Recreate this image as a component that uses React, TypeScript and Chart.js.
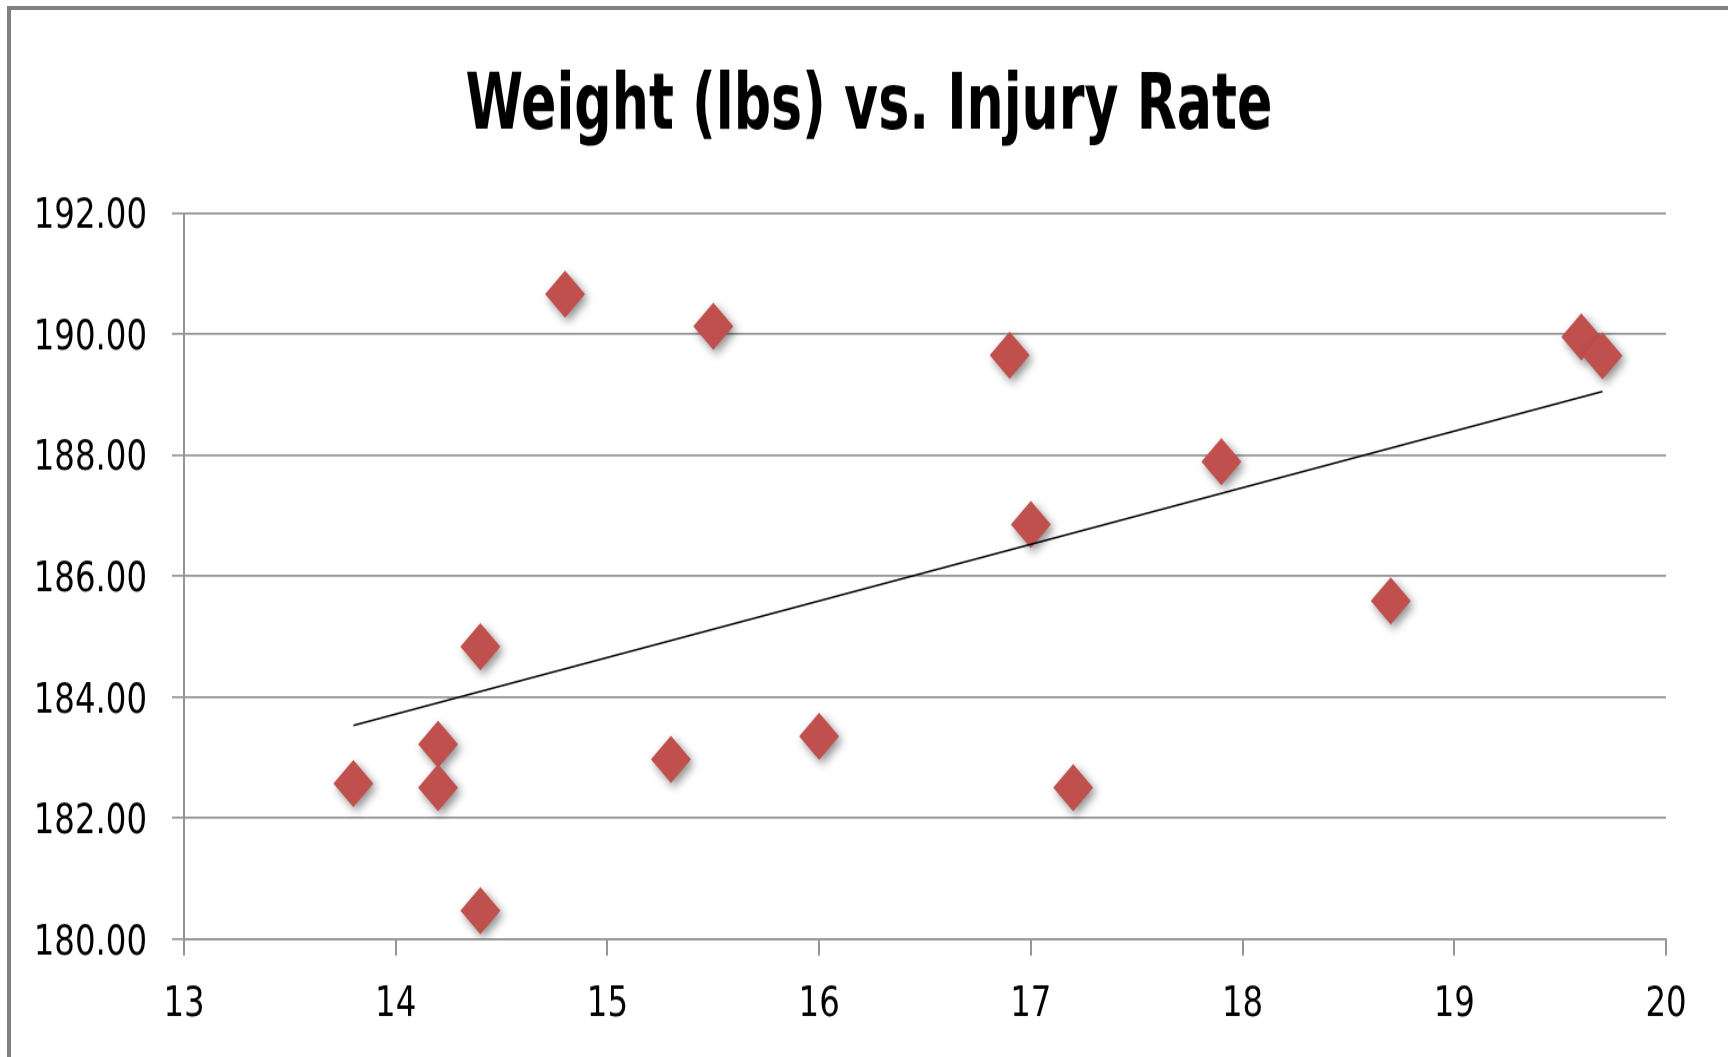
import React, { useEffect, useRef } from "react";
import { Chart, registerables } from "chart.js";

Chart.register(...registerables);

const TITLE = "Weight (lbs) vs. Injury Rate";

// Injury rate (x) and weight in lbs (y)
const injuryRate = [13.8, 14.2, 14.2, 14.4, 14.4, 14.8, 15.3, 15.5, 16.0, 16.9, 17.0, 17.2, 17.9, 18.7, 19.6, 19.7];
const weightLbs = [182.57, 183.22, 182.5, 184.83, 180.47, 190.66, 182.97, 190.13, 183.35, 189.65, 186.85, 182.5, 187.89, 185.59, 189.95, 189.64];

// Linear trendline end points (x, y)
const trendX = [13.8, 19.7];
const trendY = [183.53, 189.05];

const X_MIN = 13;
const X_MAX = 20;
const X_STEP = 1;
const Y_MIN = 180;
const Y_MAX = 192;
const Y_STEP = 2;

// The original picture is vertically stretched; reproduce by drawing on a
// shorter canvas and stretching it with CSS.
const STRETCH = 1.18;
const W = 1728;
const H_FULL = 1057;
const H = Math.round(H_FULL / STRETCH);

const FONT = "'DejaVu Sans Condensed', 'Liberation Sans', sans-serif";

const shadowPlugin = {
  id: "markerShadow",
  beforeDatasetDraw(chart: any, args: any) {
    if (args.index === 1) {
      const ctx = chart.ctx;
      ctx.save();
      ctx.shadowColor = "rgba(0,0,0,0.45)";
      ctx.shadowBlur = 9;
      ctx.shadowOffsetX = 3;
      ctx.shadowOffsetY = 3.5;
    }
  },
  afterDatasetDraw(chart: any, args: any) {
    if (args.index === 1) {
      chart.ctx.restore();
    }
  },
};

const titlePlugin = {
  id: "stretchedTitle",
  afterDraw(chart: any) {
    const ctx = chart.ctx;
    ctx.save();
    ctx.translate(869, 129 / STRETCH);
    ctx.scale(1, 1.13);
    ctx.font = "bold 58px " + FONT;
    ctx.fillStyle = "#000000";
    ctx.textAlign = "center";
    ctx.textBaseline = "alphabetic";
    ctx.fillText(TITLE, 0, 0);
    ctx.restore();
  },
};

export default function App() {
  const canvasRef = useRef<HTMLCanvasElement | null>(null);

  useEffect(() => {
    document.body.style.margin = "0";
    document.body.style.overflow = "hidden";
    const canvas = canvasRef.current;
    if (!canvas) return;

    const points = injuryRate.map((x, i) => ({ x, y: weightLbs[i] }));
    const trend = trendX.map((x, i) => ({ x, y: trendY[i] }));

    const chart = new Chart(canvas, {
      type: "scatter",
      data: {
        datasets: [
          {
            label: "Trend",
            data: trend,
            showLine: true,
            borderColor: "#000000",
            borderWidth: 1.5,
            pointRadius: 0,
            pointHoverRadius: 0,
            order: 0,
          } as any,
          {
            label: "Weight",
            data: points,
            pointStyle: "rectRot",
            pointRadius: 20,
            pointHoverRadius: 20,
            backgroundColor: "#C0504D",
            borderColor: "#C0504D",
            borderWidth: 0,
            order: 1,
          } as any,
        ],
      },
      options: {
        responsive: false,
        animation: false,
        events: [],
        layout: { padding: { left: 0, right: 62, top: 213 / STRETCH, bottom: 0 } },
        plugins: {
          legend: { display: false },
          tooltip: { enabled: false },
          title: { display: false },
        },
        scales: {
          x: {
            type: "linear",
            min: X_MIN,
            max: X_MAX,
            afterFit: (scale: any) => {
              scale.height = H - 939 / STRETCH;
            },
            ticks: {
              stepSize: X_STEP,
              color: "#000000",
              padding: 20,
              font: { family: FONT, size: 36 },
              maxRotation: 0,
            },
            grid: {
              drawOnChartArea: false,
              drawTicks: true,
              tickLength: 14,
              color: "#959595",
              lineWidth: 2,
            },
            border: { display: true, color: "#959595", width: 1.7 },
          },
          y: {
            type: "linear",
            min: Y_MIN,
            max: Y_MAX,
            afterFit: (scale: any) => {
              scale.width = 184;
            },
            ticks: {
              stepSize: Y_STEP,
              color: "#000000",
              padding: 25,
              labelOffset: 3.5,
              font: { family: FONT, size: 36 },
              callback: (v: any) => Number(v).toFixed(2),
            },
            grid: {
              drawOnChartArea: true,
              drawTicks: true,
              tickLength: 12,
              color: "#959595",
              lineWidth: 1.7,
            },
            border: { display: true, color: "#959595", width: 2 },
          },
        },
      },
      plugins: [shadowPlugin, titlePlugin],
    });

    return () => {
      chart.destroy();
    };
  }, []);

  return (
    <div style={{ position: "relative", width: W, height: H_FULL, overflow: "hidden", background: "#ffffff" }}>
      <div
        style={{
          position: "absolute",
          left: 0,
          top: 0,
          width: W,
          height: H,
          transform: `scaleY(${STRETCH})`,
          transformOrigin: "0 0",
        }}
      >
        <canvas ref={canvasRef} width={W} height={H} style={{ display: "block", width: W, height: H }} />
      </div>
      <div
        style={{
          position: "absolute",
          left: 7,
          top: 6,
          width: 1900,
          height: 1200,
          borderTop: "4px solid #808080",
          borderLeft: "4px solid #808080",
          pointerEvents: "none",
        }}
      />
    </div>
  );
}
